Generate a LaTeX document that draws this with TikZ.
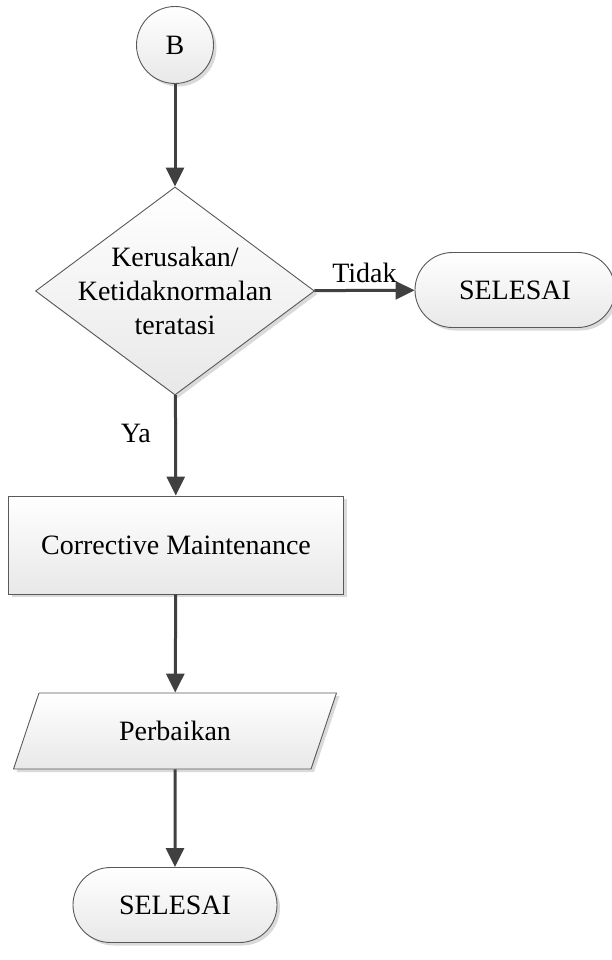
\documentclass[tikz,border=0pt]{standalone}
\usepackage{fontspec}
\setmainfont{Liberation Serif}
\usetikzlibrary{shapes.geometric,shapes.misc,shadows,arrows.meta}

\begin{document}
\begin{tikzpicture}
[x=1pt, y=-1pt,
 box/.style={draw=black!65, line width=0.9pt, top color=white, bottom color=black!9,
             drop shadow={shadow xshift=3pt, shadow yshift=-3pt, fill=black!18, opacity=0.8},
             font=\fontsize{28}{34}\selectfont, align=center, inner sep=0pt},
 conn/.style={box, circle, minimum size=77pt},
 decision/.style={box, diamond, minimum width=279pt, minimum height=208pt},
 process/.style={box, rectangle, minimum width=335pt, minimum height=98pt},
 io/.style={box, trapezium, trapezium left angle=62, trapezium right angle=118,
            trapezium stretches=true, minimum width=323pt, minimum height=76pt},
 term/.style={box, rounded rectangle, minimum width=204pt, minimum height=75pt},
 flow/.style={color=black!75, line width=3pt, -{Triangle[length=19pt,width=18pt]}},
 lbl/.style={text=black, font=\fontsize{28}{34}\selectfont}]
\useasboundingbox (0,0) rectangle (611,960);
\node[conn] (sambung) at (175,45) {B};
\node[decision, label={[lbl, align=center]center:Kerusakan/\\Ketidaknormalan\\teratasi}] %
             (cek) at (175,291) {};
\node[term, minimum width=200pt] (selesai1) at (515,290) {SELESAI};
\node[process] (cm) at (176,545) {Corrective Maintenance};
\node[io] (perb) at (175,731) {Perbaikan};
\node[term] (selesai2) at (175,905) {SELESAI};
\path[flow] (sambung) edge (cek)
      (cek) edge node[lbl, above=3pt] {Tidak} (selesai1)
            edge node[lbl, left=20pt, pos=0.38] {Ya} (cm)
      (cm) edge (perb)
      (perb) edge (selesai2);
\end{tikzpicture}
\end{document}
